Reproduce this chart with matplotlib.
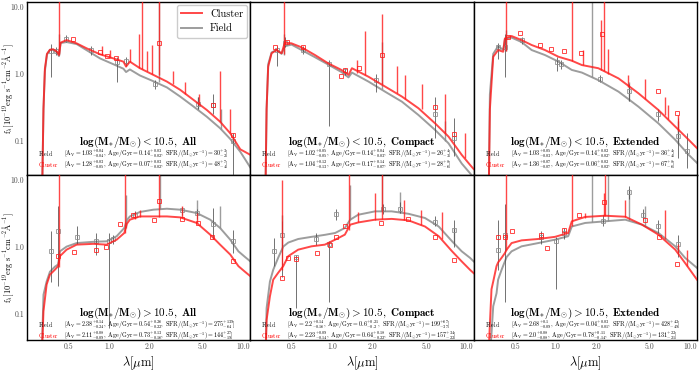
import matplotlib
matplotlib.use("Agg")
import matplotlib.pyplot as plt
from matplotlib.ticker import FixedLocator, FixedFormatter, NullLocator

plt.rcParams['mathtext.fontset'] = 'cm'
plt.rcParams['font.family'] = ['cmr10', 'DejaVu Serif']
plt.rcParams['axes.unicode_minus'] = False

# ---------------- data ----------------
# Panel 1: log M < 10.5, All
WL_1 = [0.318, 0.325, 0.333, 0.345, 0.363, 0.384, 0.41, 0.424, 0.436, 0.483, 0.574, 0.681, 0.857, 1.077,
        1.28, 1.34, 1.43, 1.70, 2.14, 2.70, 3.39, 4.26, 5.35, 6.72, 8.0, 9.5, 11.3]
CL_1 = [0.02, 0.3, 1.2, 2.0, 2.3, 2.34, 2.15, 1.92, 2.94, 3.21, 2.87, 2.42, 1.97, 1.71,
        1.53, 1.29, 1.53, 1.22, 0.97, 0.77, 0.58, 0.41, 0.29, 0.194, 0.13, 0.075, 0.062]
FD_1 = [0.02, 0.3, 1.1, 1.95, 2.3, 2.3, 2.1, 1.85, 2.9, 3.0, 2.8, 2.27, 1.71, 1.40,
        1.2, 1.07, 1.17, 0.95, 0.78, 0.63, 0.46, 0.327, 0.23, 0.155, 0.107, 0.069, 0.04]
CL_LINES_1 = [(0.426, 2.0, 15), (0.88, 1.95, 2.6), (1.02, 1.75, 2.3), (1.43, 1.5, 2.4), (1.66, 1.25, 4.0),
              (1.75, 1.2, 15), (1.91, 1.1, 2.2), (2.10, 1.0, 2.7), (2.34, 0.95, 15), (3.0, 0.7, 1.1),
              (3.7, 0.5, 0.76), (4.7, 0.35, 0.5), (6.7, 0.195, 1.1), (8.0, 0.13, 0.3)]
FD_LINES_1 = [(0.426, 1.9, 4.0), (2.36, 0.75, 15), (4.6, 0.3, 0.45), (6.8, 0.15, 0.3)]
CL_PHOT_1 = [(0.54, 3.3), (0.86, 2.1), (0.96, 1.85), (1.12, 1.75), (2.34, 2.9), (5.9, 0.34), (8.4, 0.123)]
FD_PHOT_1 = [(0.37, 2.2, 0.9, 2.8), (0.40, 2.2, 1.9, 2.5), (0.48, 3.3, 3.0, 3.8), (0.73, 2.3, 1.9, 2.6),
             (1.14, 1.5, 0.76, 1.8), (1.33, 1.55, 1.3, 1.8), (2.2, 0.7, 0.6, 0.8), (4.6, 0.36, 0.3, 0.45),
             (5.9, 0.35, 0.25, 0.5), (8.4, 0.1, 0.02, 0.13)]

# Panel 2: log M < 10.5, Compact
WL_2 = [0.318, 0.324, 0.333, 0.353, 0.384, 0.419, 0.443, 0.497, 0.591, 0.743, 0.934, 1.17, 1.32, 1.40,
        1.86, 2.47, 3.30, 4.38, 5.83, 7.34, 9.2, 10.6, 11.3]
CL_2 = [0.02, 0.3, 1.29, 2.04, 2.28, 2.04, 2.94, 2.87, 2.5, 1.92, 1.44, 1.15, 0.97, 1.22,
        0.91, 0.65, 0.46, 0.308, 0.183, 0.116, 0.062, 0.044, 0.038]
FD_2 = [0.02, 0.3, 1.4, 2.1, 2.28, 2.0, 2.6, 2.75, 2.28, 1.78, 1.38, 1.07, 0.89, 1.05,
        0.77, 0.545, 0.386, 0.244, 0.146, 0.092, 0.046, 0.033, 0.028]
CL_LINES_2 = [(0.434, 2.0, 15), (1.52, 1.05, 1.6), (1.75, 0.95, 4.4), (2.34, 0.72, 8.0), (3.02, 0.52, 1.3),
              (3.49, 0.43, 0.95), (4.64, 0.3, 0.7), (6.93, 0.13, 0.5), (9.78, 0.056, 0.13)]
FD_LINES_2 = [(0.434, 1.9, 4.0), (2.36, 0.6, 3.0), (6.9, 0.1, 0.2)]
CL_PHOT_2 = [(0.376, 2.5), (0.46, 3.0), (0.60, 2.5), (1.16, 0.93), (1.25, 1.15), (1.59, 1.22),
             (2.33, 1.92), (5.8, 0.32), (8.1, 0.127)]
FD_PHOT_2 = [(0.384, 2.3, 1.3, 2.6), (0.443, 2.9, 2.5, 3.6), (0.60, 2.3, 2.0, 2.6), (0.95, 1.4, 0.17, 1.6),
             (1.25, 1.1, 0.95, 1.25), (2.1, 0.8, 0.53, 1.0), (5.8, 0.25, 0.11, 0.45), (8.1, 0.11, 0.06, 0.22)]

# Panel 3: log M < 10.5, Extended
WL_3 = [0.318, 0.324, 0.343, 0.373, 0.407, 0.419, 0.47, 0.558, 0.663, 0.833, 1.05, 1.32, 1.57, 2.08,
        2.94, 4.14, 5.83, 7.78, 9.8, 11.3]
CL_3 = [0.02, 0.3, 1.81, 2.28, 2.15, 3.4, 3.69, 3.21, 2.71, 2.28, 1.81, 1.58, 1.36, 1.22,
        0.86, 0.515, 0.29, 0.164, 0.104, 0.078]
FD_3 = [0.02, 0.5, 2.0, 2.6, 2.3, 3.3, 3.5, 3.0, 2.28, 1.92, 1.53, 1.15, 1.05, 0.81,
        0.545, 0.325, 0.183, 0.104, 0.062, 0.047]
CL_LINES_3 = [(0.427, 2.2, 15), (1.33, 1.55, 15), (1.59, 1.35, 2.3), (2.17, 1.15, 6.4), (2.3, 1.1, 15),
              (2.47, 1.0, 2.4), (3.49, 0.65, 0.95), (4.64, 0.42, 0.85), (6.56, 0.24, 0.45),
              (6.9, 0.21, 0.35), (8.2, 0.14, 0.24)]
FD_LINES_3 = [(0.43, 2.2, 4.5), (1.87, 0.9, 15), (3.55, 0.4, 0.75), (8.2, 0.09, 0.2)]
CL_PHOT_3 = [(0.44, 3.53), (0.54, 4.05), (0.765, 2.71), (0.92, 2.34), (1.15, 2.23), (1.55, 2.04),
             (2.2, 3.95), (5.8, 0.56), (8.0, 0.26)]
FD_PHOT_3 = [(0.375, 2.5, 1.7, 2.9), (0.42, 2.5, 0.9, 3.9), (0.56, 3.2, 2.8, 3.6), (1.02, 1.5, 1.1, 1.8),
             (1.1, 1.4, 1.2, 1.6), (2.15, 0.85, 0.75, 0.95), (3.55, 0.55, 0.4, 0.7), (5.8, 0.25, 0.2, 0.3),
             (8.2, 0.12, 0.055, 0.22), (9.5, 0.07, 0.04, 0.13)]

# Panel 4: log M > 10.5, All
WL_4 = [0.315, 0.325, 0.343, 0.363, 0.395, 0.418, 0.431, 0.483, 0.574, 0.764, 0.96, 1.14, 1.30, 1.36,
        1.43, 1.70, 2.14, 2.70, 3.39, 4.5, 5.67, 6.72, 8.0, 9.2, 10.3, 11.3]
CL_4 = [0.02, 0.108, 0.27, 0.38, 0.45, 0.51, 0.72, 0.90, 1.07, 1.10, 1.07, 1.27, 1.6, 2.2,
        2.53, 2.83, 2.83, 2.83, 2.74, 2.26, 1.51, 1.07, 0.76, 0.51, 0.42, 0.36]
FD_4 = [0.02, 0.19, 0.30, 0.42, 0.5, 0.54, 0.85, 1.0, 1.13, 1.18, 1.2, 1.43, 1.9, 2.5,
        2.83, 3.3, 3.57, 3.69, 3.57, 3.18, 2.53, 1.9, 1.27, 0.85, 0.7, 0.6]
CL_LINES_4 = [(0.426, 0.5, 15), (1.32, 1.6, 15), (1.55, 2.6, 3.3), (1.70, 2.8, 3.5), (2.34, 2.8, 15),
              (3.5, 2.7, 4.0), (4.5, 2.25, 3.2)]
FD_LINES_4 = [(1.33, 1.9, 6.0), (2.38, 3.6, 15), (4.5, 3.1, 5.0), (6.7, 1.9, 4.0)]
CL_PHOT_4 = [(0.418, 0.72), (0.55, 0.82), (0.8, 0.9), (0.95, 1.0), (1.21, 2.18), (1.52, 2.93),
             (2.16, 2.53), (2.34, 4.75), (3.5, 2.6), (4.6, 2.26), (5.8, 1.4), (8.4, 0.6)]
FD_PHOT_4 = [(0.37, 0.85, 0.30, 1.69), (0.42, 1.69, 0.26, 4.0), (0.58, 1.4, 1.1, 2.0), (0.8, 1.2, 0.75, 1.6),
             (1.0, 1.2, 0.06, 1.6), (1.07, 1.3, 1.1, 1.5), (1.55, 3.0, 2.7, 3.4), (3.5, 3.5, 3.0, 3.9),
             (4.5, 3.2, 2.6, 3.6), (5.9, 2.2, 1.3, 3.8), (8.4, 1.2, 0.8, 1.8)]

# Panel 5: log M > 10.5, Compact
WL_5 = [0.318, 0.324, 0.343, 0.363, 0.395, 0.431, 0.47, 0.557, 0.70, 0.88, 1.05, 1.24, 1.36, 1.56,
        2.08, 2.77, 3.69, 4.9, 6.2, 7.8, 9.2, 10.6, 11.3]
CL_5 = [0.02, 0.08, 0.18, 0.32, 0.405, 0.51, 0.72, 0.90, 1.01, 1.07, 1.27, 1.51, 2.13, 2.3,
        2.53, 2.6, 2.47, 2.0, 1.43, 0.85, 0.6, 0.45, 0.4]
FD_5 = [0.02, 0.12, 0.3, 0.45, 0.68, 1.0, 1.15, 1.3, 1.4, 1.5, 1.6, 1.9, 2.53, 3.0,
        3.37, 3.37, 3.1, 2.68, 2.0, 1.2, 0.85, 0.68, 0.6]
CL_LINES_5 = [(0.419, 0.45, 10), (1.32, 1.8, 15), (1.55, 2.3, 3.3), (2.08, 2.5, 6.3), (2.34, 2.55, 15),
              (3.4, 2.5, 5.0), (4.6, 2.1, 3.5), (6.6, 1.3, 3.3)]
FD_LINES_5 = [(0.42, 0.9, 3.0), (1.36, 2.5, 8.5), (2.36, 3.37, 15), (3.2, 3.2, 6.5), (8.0, 1.15, 1.9)]
CL_PHOT_5 = [(0.419, 0.34), (0.47, 0.68), (0.54, 0.66), (0.77, 0.8), (0.96, 1.07), (1.07, 1.4),
             (1.25, 2.0), (2.3, 2.25), (3.66, 2.6), (5.8, 1.4), (8.1, 0.62)]
FD_PHOT_5 = [(0.366, 0.87, 0.51, 1.35), (0.42, 1.5, 0.35, 2.4), (0.54, 0.7, 0.12, 0.75), (0.76, 1.3, 1.05, 1.6),
             (0.95, 1.1, 0.15, 1.2), (1.07, 3.1, 2.5, 3.7), (2.38, 3.6, 3.1, 4.3), (3.2, 3.7, 3.2, 4.6),
             (5.8, 2.35, 2.0, 2.9), (8.1, 1.75, 1.0, 2.5)]

# Panel 6: log M > 10.5, Extended
WL_6 = [0.315, 0.333, 0.343, 0.363, 0.373, 0.396, 0.419, 0.432, 0.47, 0.558, 0.742, 0.99, 1.24, 1.32,
        1.66, 2.33, 3.3, 4.4, 5.83, 7.78, 9.2, 11.3]
CL_6 = [0.02, 0.23, 0.3, 0.51, 0.58, 0.68, 0.8, 0.90, 1.13, 1.24, 1.3, 1.4, 1.6, 2.39,
        2.78, 2.9, 2.8, 2.13, 1.51, 0.90, 0.57, 0.32]
FD_6 = [0.01, 0.05, 0.128, 0.2, 0.32, 0.45, 0.6, 0.7, 0.85, 1.01, 1.13, 1.27, 1.43, 2.0,
        2.26, 2.39, 2.53, 2.13, 1.6, 1.01, 0.68, 0.48]
CL_LINES_6 = [(0.43, 0.9, 15), (1.33, 2.0, 15), (1.66, 2.7, 3.2), (2.28, 2.9, 6.3), (2.33, 2.9, 15),
              (3.3, 2.8, 5.0), (6.5, 1.3, 3.5), (8.2, 0.8, 1.1), (9.6, 0.52, 0.9)]
FD_LINES_6 = [(1.87, 2.3, 15), (2.47, 2.4, 15), (3.55, 2.5, 7.4), (4.6, 2.0, 4.0)]
CL_PHOT_6 = [(0.373, 1.4), (0.42, 1.4), (0.47, 1.73), (0.78, 1.51), (0.87, 0.96), (1.15, 1.8),
             (1.49, 3.0), (2.3, 4.6), (4.6, 2.47), (5.9, 1.4), (8.0, 0.54)]
FD_PHOT_6 = [(0.37, 0.9, 0.45, 2.5), (0.42, 1.5, 0.15, 4.4), (0.78, 1.4, 1.1, 1.7), (1.0, 1.2, 0.23, 1.4),
             (1.15, 1.6, 1.3, 1.9), (2.25, 2.4, 2.0, 3.0), (3.5, 6.5, 5.2, 8.0), (4.5, 3.0, 2.5, 3.7),
             (5.8, 2.0, 1.6, 2.5), (8.2, 1.1, 0.7, 1.5)]

PANEL_TITLES = [
    r"$\mathbf{log(M_{*}/M_{\odot})<10.5,\ All}$",
    r"$\mathbf{log(M_{*}/M_{\odot})<10.5,\ Compact}$",
    r"$\mathbf{log(M_{*}/M_{\odot})<10.5,\ Extended}$",
    r"$\mathbf{log(M_{*}/M_{\odot})>10.5,\ All}$",
    r"$\mathbf{log(M_{*}/M_{\odot})>10.5,\ Compact}$",
    r"$\mathbf{log(M_{*}/M_{\odot})>10.5,\ Extended}$",
]
# (A_V, +, -, Age, +, -, SFR, +, -)
FIELD_STATS = [
    ("1.03", "0.04", "0.04", "0.14", "0.03", "0.02", "30", "3", "2"),
    ("1.02", "0.05", "0.05", "0.14", "0.04", "0.03", "26", "4", "3"),
    ("1.03", "0.05", "0.03", "0.14", "0.02", "0.02", "36", "4", "4"),
    ("2.38", "0.14", "0.24", "0.54", "0.26", "0.22", "275", "139", "64"),
    ("2.2", "0.14", "0.16", "0.6", "0.21", "0.2", "199", "67", "37"),
    ("2.68", "0.1", "0.09", "0.04", "0.03", "0.01", "428", "42", "49"),
]
CLUSTER_STATS = [
    ("1.28", "0.03", "0.05", "0.07", "0.03", "0.02", "48", "7", "4"),
    ("1.04", "0.12", "0.13", "0.17", "0.14", "0.07", "28", "8", "6"),
    ("1.36", "0.07", "0.07", "0.06", "0.02", "0.02", "67", "8", "6"),
    ("2.11", "0.08", "0.09", "0.73", "0.13", "0.16", "144", "27", "19"),
    ("2.23", "0.09", "0.14", "0.64", "0.18", "0.22", "157", "34", "22"),
    ("2.0", "0.08", "0.08", "0.78", "0.11", "0.14", "131", "22", "21"),
]
XTICKS = [0.5, 1.0, 2.0, 5.0, 10.0]
XTICK_LABELS = ["0.5", "1.0", "2.0", "5.0", "10.0"]
YTICKS = [0.1, 1.0, 10.0]
YTICK_LABELS = ["0.1", "1.0", "10.0"]

WAVES = [WL_1, WL_2, WL_3, WL_4, WL_5, WL_6]
CLUSTER = [CL_1, CL_2, CL_3, CL_4, CL_5, CL_6]
FIELD = [FD_1, FD_2, FD_3, FD_4, FD_5, FD_6]
CL_LINES = [CL_LINES_1, CL_LINES_2, CL_LINES_3, CL_LINES_4, CL_LINES_5, CL_LINES_6]
FD_LINES = [FD_LINES_1, FD_LINES_2, FD_LINES_3, FD_LINES_4, FD_LINES_5, FD_LINES_6]
CL_PHOT = [CL_PHOT_1, CL_PHOT_2, CL_PHOT_3, CL_PHOT_4, CL_PHOT_5, CL_PHOT_6]
FD_PHOT = [FD_PHOT_1, FD_PHOT_2, FD_PHOT_3, FD_PHOT_4, FD_PHOT_5, FD_PHOT_6]


def stats_text(s):
    av, avu, avl, age, ageu, agel, sfr, sfru, sfrl = s
    return ("$[\\mathrm{A_V}=" + av + "^{+" + avu + "}_{-" + avl + "},\\ "
            "\\mathrm{Age/Gyr}=" + age + "^{+" + ageu + "}_{-" + agel + "},\\ "
            "\\mathrm{SFR/(M_{\\odot}yr^{-1})}=" + sfr + "^{+" + sfru + "}_{-" + sfrl + "}]$")


RED = '#ff1a1a'
GRAY = '#8c8c8c'

W, H = 699.0, 370.0
fig = plt.figure(figsize=(6.99, 3.70), dpi=100)
col_left = [27.0, 250.3, 473.6]
col_w = 223.4
rows = [(2.0, 175.0), (175.0, 340.0)]
ylims = [(0.031, 11.9), (0.04, 11.8)]
text_y = [(0.186, 0.122, 0.060), (0.160, 0.093, 0.028)]
STAT_FS = 4.4

for i in range(6):
    r, c = divmod(i, 3)
    top, bot = rows[r]
    ax = fig.add_axes([col_left[c] / W, 1 - bot / H, col_w / W, (bot - top) / H])
    ax.set_xscale('log')
    ax.set_yscale('log')

    # field
    lf, = ax.plot(WAVES[i], FIELD[i], color=GRAY, lw=1.4, alpha=0.85, label='Field', zorder=2)
    fl = FD_LINES[i]
    ax.vlines([t[0] for t in fl], [t[1] for t in fl], [t[2] for t in fl], color=GRAY, lw=1.0,
              alpha=0.85, zorder=2)
    fp = FD_PHOT[i]
    ax.errorbar([t[0] for t in fp], [t[1] for t in fp],
                yerr=[[t[1] - t[2] for t in fp], [t[3] - t[1] for t in fp]],
                fmt='s', mfc='none', mec=GRAY, ms=3.5, mew=0.7, ecolor='0.3', elinewidth=0.7,
                capsize=0, alpha=0.8, zorder=3)

    # cluster
    lc, = ax.plot(WAVES[i], CLUSTER[i], color=RED, lw=1.4, alpha=0.8, label='Cluster', zorder=4)
    cl = CL_LINES[i]
    ax.vlines([t[0] for t in cl], [t[1] for t in cl], [t[2] for t in cl], color=RED, lw=1.0,
              alpha=0.8, zorder=4)
    cp = CL_PHOT[i]
    ax.plot([t[0] for t in cp], [t[1] for t in cp], 's', mfc='none', mec=RED, ms=3.5, mew=0.7,
            alpha=0.8, zorder=5)

    ax.set_xlim(0.245, 11.3)
    ax.set_ylim(*ylims[r])

    ax.xaxis.set_major_locator(FixedLocator(XTICKS))
    ax.xaxis.set_minor_locator(NullLocator())
    ax.yaxis.set_major_locator(FixedLocator(YTICKS))
    ax.yaxis.set_minor_locator(NullLocator())
    if r == 1:
        ax.xaxis.set_major_formatter(FixedFormatter(XTICK_LABELS))
        ax.set_xlabel(r"$\lambda[\mu\mathrm{m}]$", fontsize=9, labelpad=2)
    else:
        ax.xaxis.set_major_formatter(FixedFormatter([""] * len(XTICKS)))
    if c == 0:
        ax.yaxis.set_major_formatter(FixedFormatter(YTICK_LABELS))
        ax.set_ylabel(r"$\mathrm{f}_{\lambda}[10^{-19}\mathrm{erg\ s^{-1}cm^{-2}\AA^{-1}}]$",
                      fontsize=6.0)
        ax.yaxis.set_label_coords(-0.05, 0.5)
    else:
        ax.yaxis.set_major_formatter(FixedFormatter([""] * len(YTICKS)))
    ax.tick_params(axis='both', which='major', length=0, labelsize=5.5, pad=2, labelcolor='0.3')
    for sp in ax.spines.values():
        sp.set_linewidth(1.0)

    ty, fy, cy = text_y[r]
    ax.text(0.5, ty, PANEL_TITLES[i], transform=ax.transAxes, ha='center', va='center',
            fontsize=8, zorder=10)
    ax.text(0.05, fy, r"$\mathrm{Field}$", transform=ax.transAxes, ha='left', va='center',
            fontsize=STAT_FS, color='k', zorder=10)
    ax.text(0.166, fy, stats_text(FIELD_STATS[i]), transform=ax.transAxes, ha='left', va='center',
            fontsize=STAT_FS, color='k', zorder=10)
    ax.text(0.05, cy, r"$\mathrm{Cluster}$", transform=ax.transAxes, ha='left', va='center',
            fontsize=STAT_FS, color='red', zorder=10)
    ax.text(0.166, cy, stats_text(CLUSTER_STATS[i]), transform=ax.transAxes, ha='left', va='center',
            fontsize=STAT_FS, color='k', zorder=10)

    if i == 0:
        ax.legend(handles=[lc, lf], loc='upper right', fontsize=7.5, framealpha=1,
                  edgecolor='0.8', borderaxespad=0.3, handlelength=2.0)

fig.savefig("out.png", dpi=100)
